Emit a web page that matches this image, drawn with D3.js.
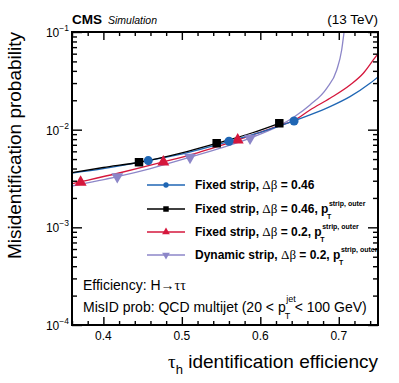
<!DOCTYPE html>
<html><head><meta charset="utf-8">
<script src="https://cdn.jsdelivr.net/npm/d3@7"></script>
<style>
html,body{margin:0;padding:0;background:#fff;}
svg{display:block;font-family:"Liberation Sans",Arial,sans-serif;}
</style></head>
<body>
<svg id="chart" width="399" height="383"></svg>
<script>
// ---- data ----
const xDomain = [0.36, 0.75];
const yDomain = [1e-4, 1e-1];
const xMajorTicks = [0.4, 0.5, 0.6, 0.7];
const xMajorLabels = ["0.4", "0.5", "0.6", "0.7"];
const yMajorTicks = [1e-4, 1e-3, 1e-2, 1e-1];
const yMajorExponents = ["\u22124", "\u22123", "\u22122", "\u22121"];

const seriesNames = ["Fixed strip", "Fixed strip", "Fixed strip", "Dynamic strip"];
const seriesDeltaBeta = ["0.46", "0.46", "0.2", "0.2"];
const seriesHasPt = [false, true, true, true];
const seriesColors = ["#1f66b4", "#000000", "#d5173c", "#8c86c8"];
const seriesSymbols = ["circle", "square", "triangle", "triangleDown"];

// curves
const blueCurveX = [0.36, 0.40, 0.4572, 0.51, 0.5601, 0.60, 0.643, 0.6633, 0.6888, 0.7143, 0.7398, 0.7504];
const blueCurveY = [0.0036, 0.0040, 0.00482, 0.0059, 0.00761, 0.0094, 0.01228, 0.01414, 0.0172, 0.02177, 0.02985, 0.0349];
const blackCurveX = [0.36, 0.40, 0.4454, 0.50, 0.5444, 0.59, 0.6242];
const blackCurveY = [0.00363, 0.0041, 0.00464, 0.0058, 0.00726, 0.0093, 0.01163];
const redCurveX = [0.36, 0.371, 0.42, 0.4764, 0.52, 0.5712, 0.6242, 0.643, 0.6633, 0.6888, 0.7143, 0.7313, 0.744, 0.7504];
const redCurveY = [0.0028, 0.00293, 0.0036, 0.00467, 0.0058, 0.00784, 0.0110, 0.0124, 0.01591, 0.02097, 0.02868, 0.0378, 0.0517, 0.0605];
const purpleCurveX = [0.36, 0.4177, 0.46, 0.5104, 0.55, 0.5869, 0.6242, 0.643, 0.6633, 0.6846, 0.6974, 0.7037, 0.7071, 0.7095];
const purpleCurveY = [0.00265, 0.0033, 0.0040, 0.00522, 0.0065, 0.0082, 0.0110, 0.0135, 0.0179, 0.02652, 0.0408, 0.0654, 0.105, 0.15];

// markers
const blueMarkX = [0.4572, 0.5601, 0.643];
const blueMarkY = [0.00482, 0.00761, 0.01228];
const blackMarkX = [0.4454, 0.5444, 0.6242];
const blackMarkY = [0.00464, 0.00726, 0.01163];
const redMarkX = [0.371, 0.4764, 0.5712];
const redMarkY = [0.00290, 0.00467, 0.00784];
const purpleMarkX = [0.4177, 0.5104, 0.5869];
const purpleMarkY = [0.0033, 0.00522, 0.0082];

const curvesX = [blueCurveX, blackCurveX, redCurveX, purpleCurveX];
const curvesY = [blueCurveY, blackCurveY, redCurveY, purpleCurveY];
const marksX = [blueMarkX, blackMarkX, redMarkX, purpleMarkX];
const marksY = [blueMarkY, blackMarkY, redMarkY, purpleMarkY];

// ---- layout ----
const L = 72, R = 378, T = 32, B = 325;
const svg = d3.select("#chart");
const x = d3.scaleLinear().domain(xDomain).range([L, R]);
const y = d3.scaleLog().domain(yDomain).range([B, T]);

svg.append("defs").append("clipPath").attr("id", "clip")
  .append("rect").attr("x", L).attr("y", T).attr("width", R - L).attr("height", B - T);

const symType = {circle: d3.symbolCircle, square: d3.symbolSquare, triangle: d3.symbolTriangle, triangleDown: d3.symbolTriangle};
const symSize = {circle: 64, square: 72, triangle: 62, triangleDown: 62};

// curves
const line = d3.line().x(d => x(d[0])).y(d => y(d[1])).curve(d3.curveMonotoneX);
const gCurves = svg.append("g").attr("clip-path", "url(#clip)");
[3, 2, 0, 1].forEach(i => {
  const pts = curvesX[i].map((v, k) => [v, curvesY[i][k]]);
  gCurves.append("path").attr("d", line(pts)).attr("fill", "none")
    .attr("stroke", seriesColors[i]).attr("stroke-width", 1.3);
});
// markers
[3, 2, 0, 1].forEach(i => {
  const s = seriesSymbols[i];
  const gen = d3.symbol().type(symType[s]).size(symSize[s]);
  marksX[i].forEach((v, k) => {
    svg.append("path").attr("d", gen())
      .attr("transform", `translate(${x(v)},${y(marksY[i][k])})` + (s === "triangleDown" ? " rotate(180)" : ""))
      .attr("fill", seriesColors[i]);
  });
});

// ---- axes (ticks inside) ----
const xMinor = d3.range(0.36, 0.7501, 0.02).filter(v => !xMajorTicks.some(m => Math.abs(m - v) < 1e-6));
function tickAxis(axisFn, scale, values, size, translate) {
  const g = svg.append("g").attr("transform", translate)
    .call(axisFn(scale).tickValues(values).tickSize(size).tickFormat(""));
  g.select(".domain").remove();
  g.selectAll(".tick line").attr("stroke", "#000").attr("stroke-width", 1.4);
  return g;
}
tickAxis(d3.axisBottom, x, xMajorTicks, -8, `translate(0,${B})`);
tickAxis(d3.axisBottom, x, xMinor, -4, `translate(0,${B})`);
tickAxis(d3.axisTop, x, xMajorTicks, -8, `translate(0,${T})`);
tickAxis(d3.axisTop, x, xMinor, -4, `translate(0,${T})`);
const yMinor = y.ticks().filter(v => !yMajorTicks.some(m => Math.abs(m - v) / m < 1e-6));
tickAxis(d3.axisLeft, y, yMajorTicks, -10, `translate(${L},0)`);
tickAxis(d3.axisLeft, y, yMinor, -5, `translate(${L},0)`);
tickAxis(d3.axisRight, y, yMajorTicks, -10, `translate(${R},0)`);
tickAxis(d3.axisRight, y, yMinor, -5, `translate(${R},0)`);

svg.append("rect").attr("x", L).attr("y", T).attr("width", R - L).attr("height", B - T)
  .attr("fill", "none").attr("stroke", "#000").attr("stroke-width", 2);

// tick labels
xMajorTicks.forEach((v, i) => {
  svg.append("text").attr("x", x(v)).attr("y", B + 15).attr("text-anchor", "middle")
    .attr("font-size", 12).text(xMajorLabels[i]);
});
yMajorTicks.forEach((v, i) => {
  const t = svg.append("text").attr("x", 69).attr("y", y(v) + 5).attr("text-anchor", "end").attr("font-size", 12);
  t.append("tspan").text("10");
  t.append("tspan").attr("dy", -6).attr("font-size", 8.5).text(yMajorExponents[i]);
});

// axis titles
const xt = svg.append("text").attr("x", R).attr("y", 368).attr("text-anchor", "end").attr("font-size", 19);
xt.append("tspan").attr("font-family", "Liberation Serif").text("\u03c4");
xt.append("tspan").attr("dy", 6).attr("font-size", 13).text("h");
xt.append("tspan").attr("dy", -6).text(" identification efficiency");

svg.append("text").attr("transform", `translate(21,${T}) rotate(-90)`).attr("text-anchor", "end")
  .attr("font-size", 19).text("Misidentification probability");

// header
svg.append("text").attr("x", L).attr("y", 24).attr("font-size", 13.5).attr("font-weight", "bold").text("CMS");
svg.append("text").attr("x", 108).attr("y", 24).attr("font-size", 10.5).attr("font-style", "italic").text("Simulation");
svg.append("text").attr("x", R).attr("y", 24).attr("text-anchor", "end").attr("font-size", 13.5).text("(13 TeV)");

// legend
const legRows = [185, 209, 232, 255];
seriesNames.forEach((name, i) => {
  const ry = legRows[i];
  svg.append("line").attr("x1", 147).attr("x2", 185).attr("y1", ry).attr("y2", ry)
    .attr("stroke", seriesColors[i]).attr("stroke-width", 1.3);
  const s = seriesSymbols[i];
  const gen = d3.symbol().type(symType[s]).size(s === "circle" ? 22 : (s === "square" ? 30 : 26));
  svg.append("path").attr("d", gen())
    .attr("transform", `translate(166,${ry})` + (s === "triangleDown" ? " rotate(180)" : ""))
    .attr("fill", seriesColors[i]);
  const t = svg.append("text").attr("x", 195).attr("y", ry + 4).attr("font-size", 12).attr("font-weight", "bold");
  t.append("tspan").text(name + ",  ");
  t.append("tspan").attr("font-family", "Liberation Serif").attr("font-weight", "normal").attr("font-size", 13).text("\u0394\u03b2");
  t.append("tspan").text(" = " + seriesDeltaBeta[i] + (seriesHasPt[i] ? ", p" : ""));
  if (seriesHasPt[i]) {
    const w = t.node().getComputedTextLength();
    svg.append("text").attr("x", 195 + w + 0.5).attr("y", ry - 3).attr("font-size", 7).attr("font-weight", "bold").text("strip, outer");
    svg.append("text").attr("x", 195 + w - 1.5).attr("y", ry + 9.5).attr("font-size", 7).attr("font-weight", "bold").text("T");
  }
});

// bottom notes
const n1 = svg.append("text").attr("x", 83).attr("y", 290).attr("font-size", 14);
n1.append("tspan").text("Efficiency: H");
n1.append("tspan").text("\u2192");
n1.append("tspan").attr("font-family", "Liberation Serif").text("\u03c4\u03c4");

const n2 = svg.append("text").attr("x", 83).attr("y", 311.5).attr("font-size", 14).text("MisID prob: QCD multijet (20 < p");
const w2 = n2.node().getComputedTextLength();
svg.append("text").attr("x", 83 + w2 + 0.5).attr("y", 302).attr("font-size", 9).text("jet");
svg.append("text").attr("x", 83 + w2 - 1).attr("y", 318.5).attr("font-size", 9).text("T");
svg.append("text").attr("x", 83 + w2 + 9).attr("y", 311.5).attr("font-size", 14).text("< 100 GeV)");
</script>
</body></html>
